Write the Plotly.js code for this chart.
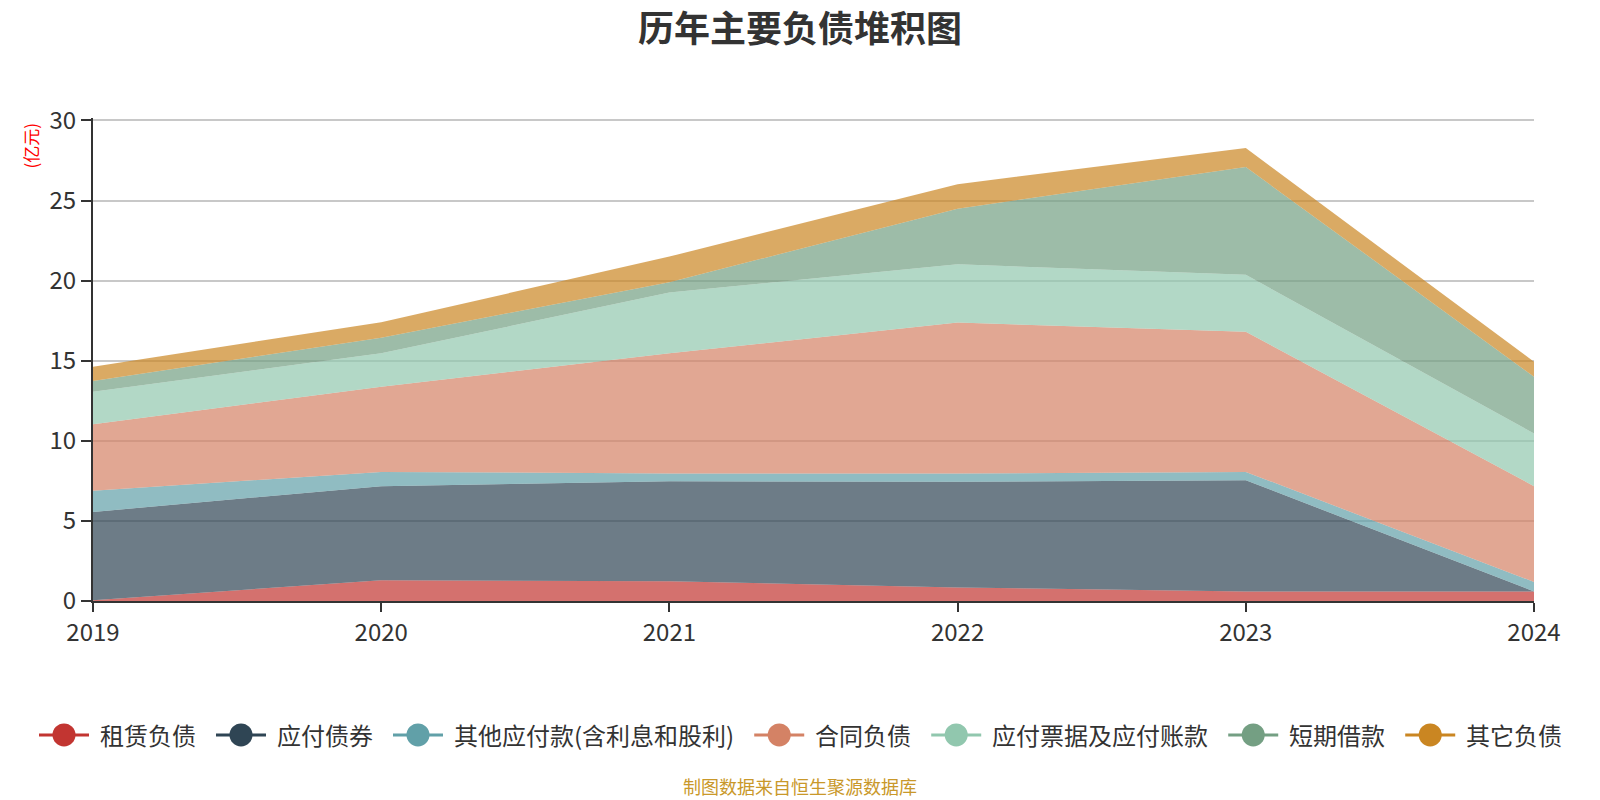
<!DOCTYPE html>
<html>
<head>
<meta charset="utf-8">
<script src="https://cdn.plot.ly/plotly-3.0.1.min.js"></script>
<style>
html,body{margin:0;padding:0;background:#fff;}
#chart{width:1600px;height:800px;}
</style>
</head>
<body>
<div id="chart"></div>
<script>
// ---- data (亿元) ----
var years = [2019, 2020, 2021, 2022, 2023, 2024];
var seriesNames = ['租赁负债', '应付债券', '其他应付款(含利息和股利)', '合同负债', '应付票据及应付账款', '短期借款', '其它负债'];
var leaseLiab      = [0.05, 1.29, 1.23, 0.84, 0.60, 0.60];
var bondsPayable   = [5.51, 5.88, 6.25, 6.60, 6.94, 0.00];
var otherPayables  = [1.32, 0.89, 0.48, 0.52, 0.52, 0.59];
var contractLiab   = [4.16, 5.32, 7.50, 9.42, 8.75, 5.98];
var notesAccounts  = [2.02, 2.08, 3.79, 3.64, 3.55, 3.29];
var shortLoans     = [0.67, 0.98, 0.65, 3.46, 6.73, 3.54];
var otherLiab      = [0.90, 0.96, 1.60, 1.54, 1.18, 0.94];
var yTicks = [0, 5, 10, 15, 20, 25, 30];

var seriesValues = [leaseLiab, bondsPayable, otherPayables, contractLiab, notesAccounts, shortLoans, otherLiab];
var colors = ['#c23531', '#2f4554', '#61a0a8', '#d48265', '#91c7ae', '#749f83', '#ca8622'];

function rgba(hex, a) {
  var r = parseInt(hex.substr(1,2),16), g = parseInt(hex.substr(3,2),16), b = parseInt(hex.substr(5,2),16);
  return 'rgba(' + r + ',' + g + ',' + b + ',' + a + ')';
}

var FONT = '"Noto Sans CJK SC", "Noto Sans", sans-serif';
var W = 1600, H = 800, ML = 93, MR = 66, MT = 117.6, MB = 199;
var PW = W - ML - MR, PH = H - MT - MB;
function px2x(X) { return (X - ML) / PW; }
function px2y(Y) { return (H - MB - Y) / PH; }

var traces = [];
seriesValues.forEach(function(vals, i) {
  traces.push({
    type: 'scatter', mode: 'lines', x: years, y: vals, name: seriesNames[i],
    stackgroup: 'one', line: {width: 0, color: colors[i]}, fillcolor: rgba(colors[i], 0.7),
    showlegend: false, hoverinfo: 'x+y+name'
  });
});

// ---- custom legend (line + circle symbol, text) ----
var ctx = document.createElement('canvas').getContext('2d');
ctx.font = '24px "Noto Sans CJK SC"';
var shapes = [], annotations = [];
var legY = 735, cx = 39, symW = 50, gapText = 10, gapItem = 21, r = 11.5;
seriesNames.forEach(function(name, i) {
  shapes.push({type: 'line', xref: 'paper', yref: 'paper', x0: px2x(cx), x1: px2x(cx + symW),
    y0: px2y(legY), y1: px2y(legY), line: {color: colors[i], width: 3}});
  var cc = cx + symW / 2;
  shapes.push({type: 'circle', xref: 'paper', yref: 'paper', x0: px2x(cc - r), x1: px2x(cc + r),
    y0: px2y(legY + r), y1: px2y(legY - r), fillcolor: colors[i], line: {width: 0}});
  var tx = cx + symW + gapText;
  var tw = ctx.measureText(name).width;
  annotations.push({text: name, xref: 'paper', yref: 'paper', x: px2x(tx - 1), y: px2y(legY),
    xanchor: 'left', yanchor: 'middle', showarrow: false, font: {size: 24, color: '#333', family: FONT}});
  cx = tx + tw + gapItem;
});

annotations.push({text: '(亿元)', xref: 'paper', yref: 'paper', x: px2x(30), y: px2y(145), xanchor: 'center', yanchor: 'middle',
  showarrow: false, textangle: -90, font: {size: 17, color: '#ff0000', family: FONT}});
annotations.push({text: '制图数据来自恒生聚源数据库', xref: 'paper', yref: 'paper', x: px2x(800), y: px2y(786),
  xanchor: 'center', yanchor: 'middle', showarrow: false, font: {size: 18, color: '#c9982a', family: FONT}});

var layout = {
  width: W, height: H,
  margin: {l: ML, r: MR, t: MT, b: MB},
  paper_bgcolor: '#fff', plot_bgcolor: '#fff',
  font: {family: FONT, color: '#333'},
  title: {text: '<b>历年主要负债堆积图</b>', x: 0.5, xanchor: 'center', y: 1 - 29 / H, yanchor: 'middle',
          font: {size: 36, color: '#333', family: FONT}},
  xaxis: {
    type: 'linear', range: [years[0], years[years.length-1]], tickvals: years, ticktext: years.map(String),
    showgrid: false, zeroline: false, showline: true, linecolor: '#333', linewidth: 2,
    ticks: 'outside', ticklen: 9, tickwidth: 2, tickcolor: '#333',
    tickfont: {size: 24, color: '#333', family: FONT}
  },
  yaxis: {
    range: [0, 30.15], tickvals: yTicks, ticktext: yTicks.map(String),
    showgrid: true, gridcolor: '#c8c8c8', gridwidth: 1.5, zeroline: false,
    showline: true, linecolor: '#333', linewidth: 2,
    ticks: 'outside', ticklen: 10, tickwidth: 2, tickcolor: '#333',
    tickfont: {size: 24, color: '#333', family: FONT}
  },
  shapes: shapes,
  annotations: annotations,
  showlegend: false, hovermode: 'closest'
};

Plotly.newPlot('chart', traces, layout, {displayModeBar: false, responsive: false});
</script>
</body>
</html>
